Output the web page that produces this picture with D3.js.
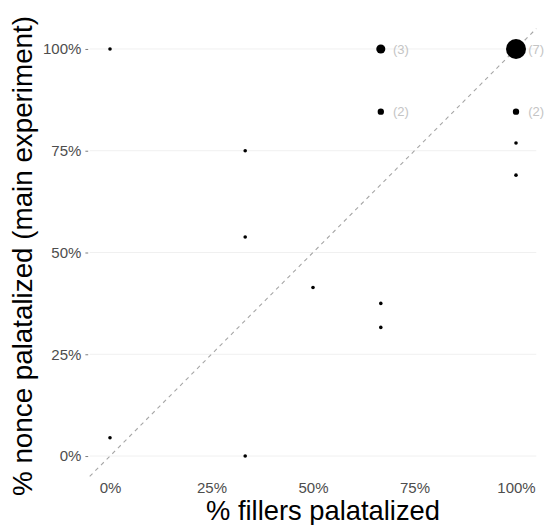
<!DOCTYPE html>
<html>
<head>
<meta charset="utf-8">
<script src="https://cdn.jsdelivr.net/npm/d3@7"></script>
<style>
  html, body { margin: 0; padding: 0; background: #fff; }
  svg { display: block; font-family: "Liberation Sans", Arial, Helvetica, sans-serif; }
</style>
</head>
<body>
<svg id="chart" width="548" height="525"></svg>
<script>
// ---- data ----
const fillerPct = [0, 0, 33.3, 33.3, 33.3, 50, 66.7, 66.7, 66.7, 66.7, 100, 100, 100, 100];
const noncePct  = [100, 4.5, 75, 53.8, 0, 41.4, 100, 84.6, 37.5, 31.6, 100, 84.6, 76.9, 69.0];
const counts    = [1, 1, 1, 1, 1, 1, 3, 2, 1, 1, 7, 2, 1, 1];
const xTicks = [0, 25, 50, 75, 100];
const yTicks = [0, 25, 50, 75, 100];
const xTitle = "% fillers palatalized";
const yTitle = "% nonce palatalized (main experiment)";

const points = fillerPct.map((x, i) => ({ x, y: noncePct[i], n: counts[i] }));

const svg = d3.select("#chart");
const panel = { left: 89.7, right: 536.3, top: 28.6, bottom: 476.4 };

const x = d3.scaleLinear().domain([-5, 105]).range([panel.left, panel.right]);
const y = d3.scaleLinear().domain([-5, 105]).range([panel.bottom, panel.top]);
const r = d3.scaleLinear().domain([1, 7]).range([1.8, 10]);
const fmt = d => d + "%";

// grid lines (horizontal only)
svg.append("g").selectAll("line").data(yTicks).join("line")
  .attr("x1", panel.left).attr("x2", panel.right)
  .attr("y1", d => y(d)).attr("y2", d => y(d))
  .attr("stroke", "#f0f0f0").attr("stroke-width", 1);

// y axis
const yAxis = svg.append("g")
  .attr("transform", `translate(${panel.left - 1.5},0)`)
  .call(d3.axisLeft(y).tickValues(yTicks).tickFormat(fmt).tickSize(2.8).tickPadding(4));
yAxis.select(".domain").remove();
yAxis.selectAll(".tick line").attr("stroke", "#7f7f7f").attr("stroke-width", 1);
yAxis.selectAll(".tick text").attr("fill", "#4d4d4d").style("font-size", "15px")
  .style("font-family", "'Liberation Sans', Arial, sans-serif");

// x axis
const xAxis = svg.append("g")
  .attr("transform", `translate(0,${panel.bottom})`)
  .call(d3.axisBottom(x).tickValues(xTicks).tickFormat(fmt).tickSize(0).tickPadding(5.5));
xAxis.select(".domain").remove();
xAxis.selectAll(".tick line").remove();
xAxis.selectAll(".tick text").attr("fill", "#4d4d4d").style("font-size", "15px")
  .style("font-family", "'Liberation Sans', Arial, sans-serif");

// identity line
svg.append("line")
  .attr("x1", x(-5)).attr("y1", y(-5))
  .attr("x2", x(105)).attr("y2", y(105))
  .attr("stroke", "#a6a6a6").attr("stroke-width", 1.1)
  .attr("stroke-dasharray", "4,4");

// count labels
svg.append("g").selectAll("text").data(points.filter(d => d.n > 1)).join("text")
  .attr("x", d => x(d.x + 3))
  .attr("y", d => y(d.y))
  .attr("dy", "0.35em")
  .attr("fill", "#c4c4c4")
  .style("font-size", "13px")
  .text(d => `(${d.n})`);

// points
svg.append("g").selectAll("circle").data(points).join("circle")
  .attr("cx", d => x(d.x)).attr("cy", d => y(d.y))
  .attr("r", d => r(d.n))
  .attr("fill", "#000");

// axis titles
const xt = svg.append("text")
  .attr("x", 323).attr("y", 520)
  .attr("text-anchor", "middle")
  .attr("fill", "#000")
  .style("font-size", "27px")
  .text(xTitle);

const yt = svg.append("text")
  .attr("transform", `translate(32,256) rotate(-90)`)
  .attr("text-anchor", "middle")
  .attr("fill", "#000")
  .style("font-size", "27px")
  .text(yTitle);

// fit title sizes to the measured extents in the reference
function fit(sel, target) {
  const len = sel.node().getComputedTextLength();
  if (len > 0) sel.style("font-size", (27 * target / len).toFixed(2) + "px");
}
fit(xt, 234);
fit(yt, 480);
</script>
</body>
</html>
